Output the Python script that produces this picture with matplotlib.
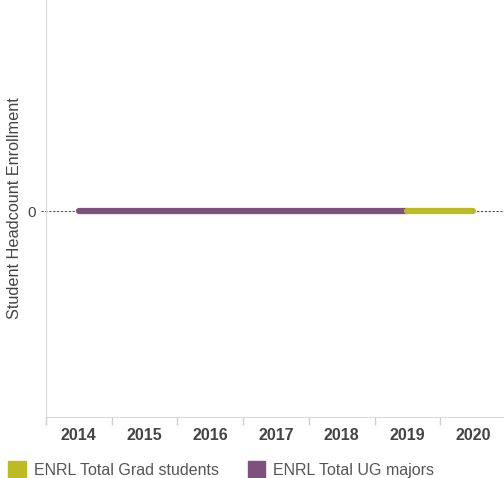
import numpy as np
import matplotlib.pyplot as plt
from matplotlib.patches import Patch

plt.rcParams['font.family'] = ['Liberation Sans', 'DejaVu Sans']

years = ['2014', '2015', '2016', '2017', '2018', '2019', '2020']
grad_students = [np.nan, np.nan, np.nan, np.nan, np.nan, 0, 0]
ug_majors = [0, 0, 0, 0, 0, 0, np.nan]

c_grad = '#bdbb23'
c_ug = '#7f4f7e'

fig = plt.figure(figsize=(5.04, 4.78), dpi=100)
ax = fig.add_axes([46 / 504, 1 - 417 / 478, 460 / 504, 417 / 478])

x = np.arange(len(years))
ax.axhline(0, color='#555555', lw=0.8, ls=(0, (2, 1.5)), zorder=1, clip_on=False,
           xmin=-5 / 460)
ax.plot(x, ug_majors, color=c_ug, lw=4.5, solid_capstyle='round', zorder=3)
ax.plot(x, grad_students, color=c_grad, lw=4.5, solid_capstyle='round', zorder=4)

ax.set_xlim(-0.5, 6.5)
ax.set_ylim(-0.988, 1.012)
ax.set_yticks([0])
ax.set_yticklabels(['0'], fontsize=11, color='#444444')
ax.tick_params(axis='y', length=0, pad=7)

ax.set_xticks(x)
ax.set_xticklabels(years, fontsize=11.5, fontweight='bold', color='#444444')
ax.tick_params(axis='x', length=0, pad=8)
ax.set_xticks(np.arange(-0.5, 7, 1), minor=True)
ax.tick_params(axis='x', which='minor', length=6, color='#d0d0d0', width=1)

for s in ['top', 'right']:
    ax.spines[s].set_visible(False)
ax.spines['left'].set_color('#d8d8d8')
ax.spines['bottom'].set_color('#d8d8d8')

ax.set_ylabel('Student Headcount Enrollment', fontsize=11.7, color='#444444')
ax.yaxis.set_label_coords(-24 / 460, 0.5)

handles = [Patch(color=c_grad, label='ENRL Total Grad students'),
           Patch(color=c_ug, label='ENRL Total UG majors')]
fig.legend(handles=handles, loc='lower left', bbox_to_anchor=(-0.012, -0.03), ncol=2,
           frameon=False, fontsize=11.5, handlelength=1.1, handleheight=1.3,
           handletextpad=0.5, columnspacing=1.8, labelcolor='#555555')

fig.savefig('out.png', dpi=100)
